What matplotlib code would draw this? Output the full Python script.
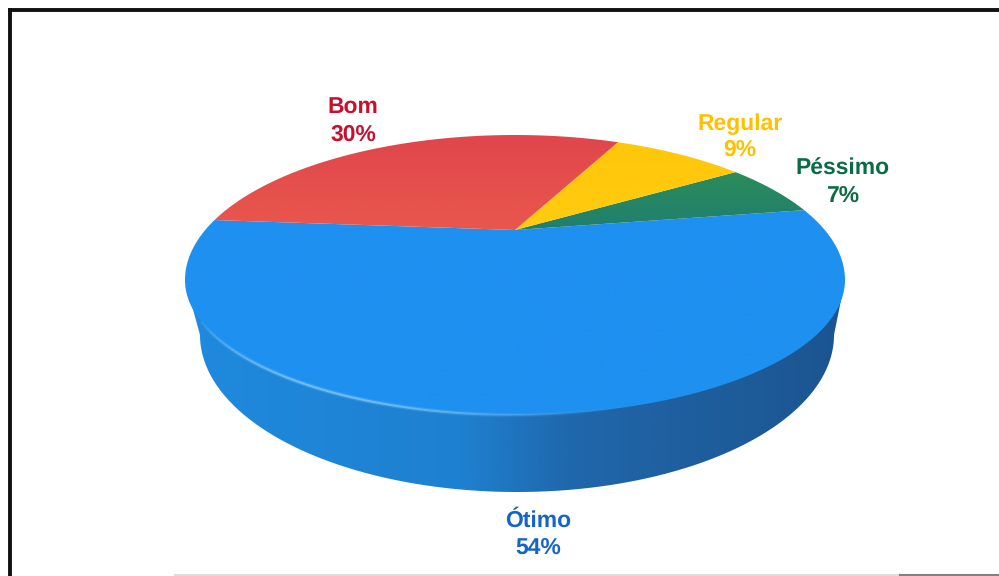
#!/usr/bin/env python3
# Description: 3D-looking pie of survey ratings, drawn in pixel coordinates on one full-figure axes

import numpy as np
import matplotlib
matplotlib.use('Agg')
import matplotlib.pyplot as plt
from matplotlib.colors import LinearSegmentedColormap
from matplotlib.patches import Polygon

labels = ['Ótimo', 'Péssimo', 'Regular', 'Bom']
percent_labels = [54, 7, 9, 30]
# slice sizes as measured on the picture, they differ a bit from the printed percentages
shares = [53.9, 6.4, 8.8, 30.9]
label_colors = ['#1565c8', '#0b6b45', '#ffc000', '#c8102e']
slice_colors = [('#1e90f0', '#1e90f0'), ('#2c8c5a', '#1f7f70'),
                ('#ffc70a', '#ffcb10'), ('#e0464c', '#e9574c')]
label_pos = [(538, 534.5), (843, 182.5), (740, 137), (353, 121.5)]

CX, CY, A, B_BACK, B_FRONT = 515, 280, 330, 145, 135
APEX_V = 50 / 145
START_ANGLE = 175.4


def project(angle_deg, radius=1.0):
    # perspective map of the unit disc, centre lands on the apex of the slices
    t = np.radians(np.asarray(angle_deg, dtype=float))
    x, y = radius * np.cos(t), radius * np.sin(t)
    d = 1 + APEX_V * y
    u = x * np.sqrt(1 - APEX_V ** 2) / d
    v = (y + APEX_V) / d
    b = np.where(v > 0, B_BACK, B_FRONT)
    return CX + A * u, CY - v * b


def gradient_fill(ax, poly, c0, c1, horizontal=False):
    xy = np.asarray(poly)
    cmap = LinearSegmentedColormap.from_list('g', [c0, c1])
    g = np.linspace(0, 1, 256)
    g = g.reshape(1, -1) if horizontal else g.reshape(-1, 1)
    im = ax.imshow(g, cmap=cmap, aspect='auto', interpolation='bilinear',
                   extent=(xy[:, 0].min(), xy[:, 0].max(), xy[:, 1].max(), xy[:, 1].min()))
    patch = Polygon(xy, closed=True, transform=ax.transData, fc='none', ec='none')
    ax.add_patch(patch)
    im.set_clip_path(patch)


def main():
    plt.rcParams['font.family'] = ['Liberation Sans', 'DejaVu Sans']
    plt.rcParams['text.hinting'] = 'no_hinting'
    fig = plt.figure(figsize=(9.99, 5.76), dpi=100)
    ax = fig.add_axes([0, 0, 1, 1])

    # side wall: lower half of a narrower ellipse, joined straight up to the widest points of the top
    t = np.radians(np.linspace(0, 180, 181))
    wall = np.column_stack([517 + 317 * np.cos(t), 335 + 157 * np.sin(t)])
    wall = np.vstack([[CX + A, CY], wall, [CX - A, CY]])
    wall_cmap = LinearSegmentedColormap.from_list(
        'wall', [(0, '#1e8ade'), (0.42, '#1f80d0'), (0.58, '#1f68ac'), (0.75, '#1f5f9f'), (1, '#1b5590')])
    im = ax.imshow(np.linspace(0, 1, 256).reshape(1, -1), cmap=wall_cmap, aspect='auto',
                   extent=(wall[:, 0].min(), wall[:, 0].max(), wall[:, 1].max(), wall[:, 1].min()))
    wall_patch = Polygon(wall, closed=True, fc='none', ec='none')
    ax.add_patch(wall_patch)
    im.set_clip_path(wall_patch)

    # top face, slices go counter-clockwise from the left edge
    a0 = START_ANGLE
    for share, (c0, c1) in zip(shares, slice_colors):
        a1 = a0 + share * 3.6
        px, py = project(np.linspace(a0, a1, 200))
        apex = (CX, CY - APEX_V * B_BACK)
        poly = np.vstack([apex, np.column_stack([px, py])])
        gradient_fill(ax, poly, c0, c1)
        a0 = a1

    # highlight along the front rim, fading towards the right
    hx = np.linspace(198, 640, 150)
    hu = (hx - CX) / A
    hy = CY + B_FRONT * np.sqrt(1 - hu ** 2)
    fade = np.sin(np.linspace(0, np.pi, 150)) ** 0.6 * np.linspace(0.9, 0.0, 150)
    for i in range(len(hx) - 1):
        ax.plot(hx[i:i + 2], hy[i:i + 2], color='#7cc8fa', lw=3.2, alpha=float(fade[i]) * 0.5,
                solid_capstyle='butt')
        ax.plot(hx[i:i + 2], hy[i:i + 2], color='#a5dcfc', lw=1.4, alpha=float(fade[i]),
                solid_capstyle='butt')

    # frame of the scanned page
    ax.plot([9.5, 9.5], [8, 576], color='#111111', lw=2.8, solid_capstyle='butt')
    ax.plot([8, 999], [9.5, 9.5], color='#111111', lw=2.8, solid_capstyle='butt')
    ax.plot([175, 900], [575, 575], color='#dddddd', lw=1.5)
    ax.plot([900, 999], [575, 575], color='#808080', lw=1.5)

    for label, pct, color, (x, y) in zip(labels, percent_labels, label_colors, label_pos):
        ax.text(x, y, f'{label}\n{pct}%', color=color, fontsize=16.5, fontweight='bold',
                ha='center', va='center', linespacing=1.3)

    ax.set_xlim(0, 999)
    ax.set_ylim(576, 0)
    ax.axis('off')
    fig.savefig('out.png', dpi=100, facecolor='white')


if __name__ == "__main__":
    main()
